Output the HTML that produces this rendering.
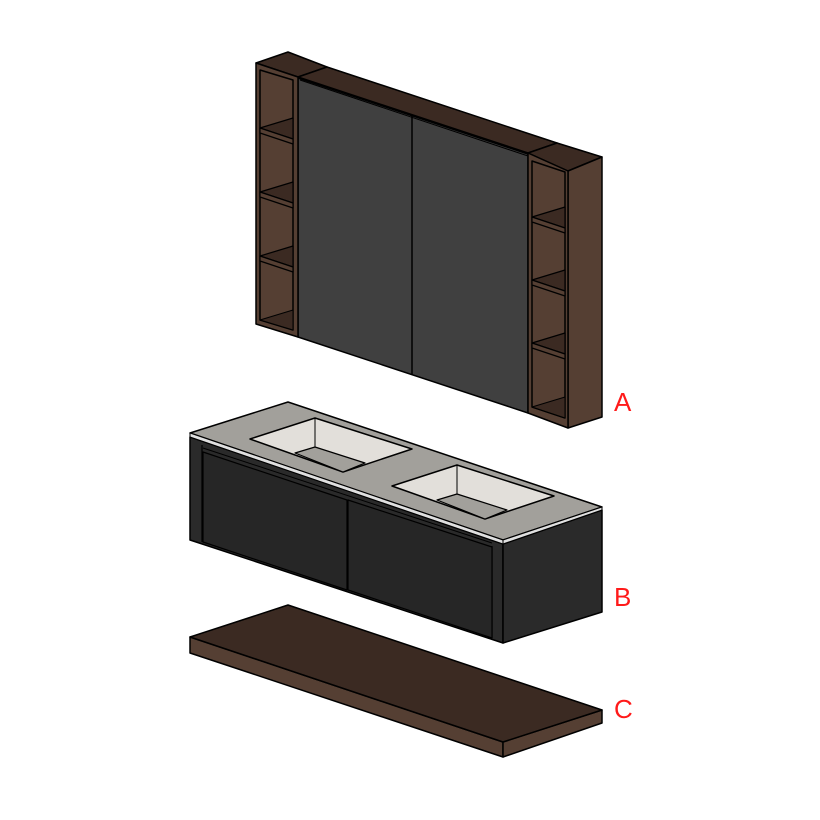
<!DOCTYPE html>
<html><head><meta charset="utf-8"><style>html,body{margin:0;padding:0;background:#fff}svg{display:block}</style></head>
<body>
<svg width="820" height="820" viewBox="0 0 820 820" xmlns="http://www.w3.org/2000/svg" stroke="#000" stroke-linejoin="round">
<!-- A cabinet -->
<g stroke-width="1.5">
<polygon points="256,63 288,52 327,67 298,77" fill="#3b2a22"/>
<polygon points="298,77 327,67 557,143 528,153" fill="#3b2a22"/>
<polygon points="528,153 557,143 602,157 568,171" fill="#3b2a22"/>
<polygon points="568,171 602,157 602,417 568,428" fill="#553f33"/>
<polygon points="298,78 528,154 528,413 298,337" fill="#404040"/>
<line x1="300" y1="80" x2="528" y2="156" stroke-width="1"/>
<line x1="412" y1="116" x2="412" y2="375"/>
<polygon points="256,63 298,77 298,337 256,324" fill="#553f33"/>
<polygon points="260,70 293,80 293,330 260,320" fill="#553f33"/>
<polygon points="260,320 293,310 293,330" fill="#3b2a22" stroke-width="1"/>
<polygon points="528,153 568,171 568,428 528,413" fill="#553f33"/>
<polygon points="532,161 565,172 565,418 532,407" fill="#553f33"/>
<polygon points="532,407 565,397 565,418" fill="#3b2a22" stroke-width="1"/>
</g>
<g stroke-width="1.2">
<g fill="#3b2a22">
<polygon points="260,128 293,118 293,139"/>
<polygon points="260,192 293,182 293,203"/>
<polygon points="260,256 293,246 293,267"/>
<polygon points="532,217 565,207 565,228"/>
<polygon points="532,280 565,270 565,291"/>
<polygon points="532,343 565,333 565,354"/>
</g>
<g fill="#553f33">
<polygon points="260,128 293,139 293,144 260,133"/>
<polygon points="260,192 293,203 293,208 260,197"/>
<polygon points="260,256 293,267 293,272 260,261"/>
<polygon points="532,217 565,228 565,233 532,222"/>
<polygon points="532,280 565,291 565,296 532,285"/>
<polygon points="532,343 565,354 565,359 532,348"/>
</g>
</g>
<!-- B vanity -->
<g stroke-width="1.5">
<polygon points="190,437 503,544 503,643 190,540" fill="#2a2a2a"/>
<polygon points="503,544 602,510 602,612 503,643" fill="#2a2a2a"/>
<polygon points="190,433 288,402 602,507 503,540" fill="#a2a09b"/>
<polygon points="190,433 503,540 503,544 190,437" fill="#e0e0e0" stroke-width="1"/>
<polygon points="503,540 602,507 602,510 503,544" fill="#e0e0e0" stroke-width="1"/>
<line x1="492" y1="546" x2="492" y2="638" stroke-width="1.2"/>
<line x1="202" y1="445" x2="202" y2="542" stroke-width="1.2"/>
<polygon points="203,452 347,500 347,590 203,542" fill="#262626" stroke-width="1.2"/>
<polygon points="348,500 492,547 492,638 348,590" fill="#262626" stroke-width="1.2"/>
<line x1="203" y1="448" x2="492" y2="543" stroke-width="1"/>
<polygon points="250,439 315,418 412,449 343,472" fill="#e2dfda"/>
<polygon points="295,453 315,447 365,463 343,472" fill="#a2a09b" stroke-width="1.2"/>
<line x1="315" y1="418" x2="315" y2="447" stroke-width="1"/>
<polygon points="392,486 457,465 554,496 485,519" fill="#e2dfda"/>
<polygon points="437,500 457,494 507,510 485,519" fill="#a2a09b" stroke-width="1.2"/>
<line x1="457" y1="465" x2="457" y2="494" stroke-width="1"/>
</g>
<!-- C shelf -->
<g stroke-width="1.5">
<polygon points="190,637 503,742 503,757 190,653" fill="#553f33"/>
<polygon points="503,742 602,710 602,723 503,757" fill="#553f33"/>
<polygon points="190,637 288,605 602,710 503,742" fill="#3b2a22"/>
</g>
<g fill="#ff1a1a" font-family="Liberation Sans, sans-serif" font-size="26" stroke="none">
<text x="614" y="411">A</text>
<text x="614" y="606">B</text>
<text x="614" y="718">C</text>
</g>
</svg>
</body></html>
